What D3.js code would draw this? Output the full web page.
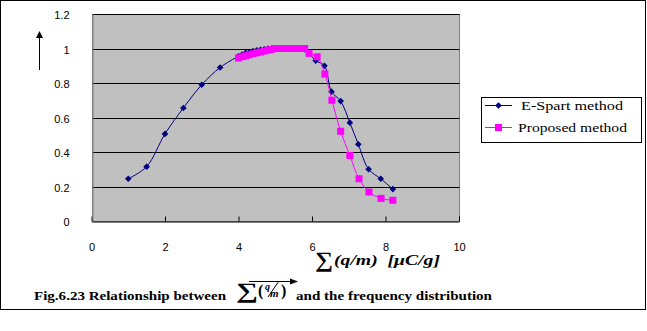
<!DOCTYPE html>
<html><head><meta charset="utf-8">
<script src="https://cdn.jsdelivr.net/npm/d3@7"></script>
<style>body{margin:0;background:#fff}svg{display:block}</style>
</head><body>
<svg id="c" width="647" height="331"></svg>
<script>
// ---- data ----
const espartX = [1, 1.5, 2, 2.5, 3, 3.5, 4, 4.1, 4.2, 4.3, 4.4, 4.5, 4.6, 4.7, 4.8, 4.9, 5.0, 5.2, 5.4, 5.6, 5.8, 6.1, 6.34, 6.53, 6.78, 7.03, 7.26, 7.54, 7.87, 8.2];
const espartY = [0.245, 0.315, 0.505, 0.655, 0.79, 0.89, 0.955, 0.965, 0.975, 0.98, 0.985, 0.99, 0.993, 0.996, 0.998, 1.0, 1.0, 1.0, 1.0, 1.0, 0.995, 0.93, 0.9, 0.75, 0.695, 0.57, 0.445, 0.3, 0.245, 0.185];
const proposedX = [4.0, 4.1, 4.2, 4.3, 4.4, 4.5, 4.6, 4.7, 4.8, 4.9, 5.0, 5.1, 5.2, 5.3, 5.4, 5.5, 5.6, 5.7, 5.8, 5.92, 6.14, 6.35, 6.54, 6.78, 7.03, 7.28, 7.55, 7.88, 8.2];
const proposedY = [0.945, 0.952, 0.958, 0.964, 0.97, 0.975, 0.98, 0.985, 0.99, 0.995, 1.0, 1.0, 1.0, 1.0, 1.0, 1.0, 1.0, 1.0, 1.0, 0.972, 0.952, 0.852, 0.70, 0.52, 0.38, 0.245, 0.168, 0.131, 0.12];
const xTicks = [0, 2, 4, 6, 8, 10];
const yTicks = [0, 0.2, 0.4, 0.6, 0.8, 1, 1.2];
const yTickLabels = ["0", "0.2", "0.4", "0.6", "0.8", "1", "1.2"];
const seriesNames = ["E-Spart method", "Proposed method"];
const captionLeft = "Fig.6.23 Relationship between";
const captionRight = "and the frequency distribution";

// ---- drawing ----
const svg = d3.select("#c");
svg.append("rect").attr("width", 647).attr("height", 331).attr("fill", "#fff");
svg.append("rect").attr("x", 0.5).attr("y", 0.5).attr("width", 645).attr("height", 309)
  .attr("fill", "none").attr("stroke", "#000");

const x = d3.scaleLinear().domain([0, 10]).range([91.5, 459]);
const y = d3.scaleLinear().domain([0, 1.2]).range([221, 14]);
const cr = v => Math.round(v) + 0.5;

svg.append("rect").attr("x", cr(x(0))).attr("y", cr(y(1.2)))
  .attr("width", cr(x(10)) - cr(x(0))).attr("height", cr(y(0)) - cr(y(1.2)))
  .attr("fill", "#C0C0C0").attr("stroke", "#808080");

// gridlines
svg.append("g").selectAll("line").data(yTicks.filter(d => d > 0)).join("line")
  .attr("x1", cr(x(0))).attr("x2", cr(x(10)))
  .attr("y1", d => cr(y(d))).attr("y2", d => cr(y(d)))
  .attr("stroke", "#000");

// x axis
const xAxis = d3.axisBottom(x).tickValues(xTicks).tickSizeInner(-5).tickSizeOuter(0).tickPadding(22);
const gx = svg.append("g").attr("transform", `translate(0,${cr(y(0))})`).call(xAxis);
gx.select(".domain").attr("stroke", "#000");
gx.selectAll(".tick line").attr("stroke", "#000");
gx.selectAll(".tick text").attr("font-family", "Liberation Sans, Arial, sans-serif").attr("font-size", 11).attr("fill", "#000");

// y axis
const yAxis = d3.axisLeft(y).tickValues(yTicks).tickFormat((d, i) => yTickLabels[i]).tickSize(0).tickPadding(23);
const gy = svg.append("g").attr("transform", `translate(${cr(x(0))},0)`).call(yAxis);
gy.select(".domain").attr("stroke", "#808080");
gy.selectAll(".tick text").attr("font-family", "Liberation Sans, Arial, sans-serif").attr("font-size", 11).attr("fill", "#000").attr("dy", "0.45em");

// lines
const line = d3.line().x(d => x(d[0])).y(d => y(d[1])).curve(d3.curveCatmullRom.alpha(0.5));
const eData = espartX.map((v, i) => [v, espartY[i]]);
const pData = proposedX.map((v, i) => [v, proposedY[i]]);
const NAVY = "#000080", MAG = "#FF00FF";
const diamond = d3.symbol(d3.symbolDiamond2, 28);

svg.append("path").datum(eData).attr("d", line).attr("fill", "none").attr("stroke", NAVY).attr("stroke-width", 1);
svg.append("g").selectAll("path").data(eData).join("path")
  .attr("d", diamond)
  .attr("transform", d => `translate(${x(d[0])},${y(d[1])})`).attr("fill", NAVY);

svg.append("path").datum(pData).attr("d", line).attr("fill", "none").attr("stroke", MAG).attr("stroke-width", 1);
svg.append("g").selectAll("rect").data(pData).join("rect")
  .attr("x", d => x(d[0]) - 3.5).attr("y", d => y(d[1]) - 3.5).attr("width", 7).attr("height", 7)
  .attr("fill", MAG);

// legend
const lg = svg.append("g");
lg.append("rect").attr("x", 481.5).attr("y", 97.5).attr("width", 160).attr("height", 45)
  .attr("fill", "#fff").attr("stroke", "#000");
const legY = [105.5, 127.5];
[NAVY, MAG].forEach((c, i) => {
  lg.append("line").attr("x1", 485).attr("x2", 512).attr("y1", legY[i]).attr("y2", legY[i]).attr("stroke", c);
  if (i === 0) lg.append("path").attr("d", diamond).attr("transform", `translate(498.5,${legY[i]})`).attr("fill", c);
  else lg.append("rect").attr("x", 495).attr("y", legY[i] - 3.5).attr("width", 7).attr("height", 7).attr("fill", c);
  lg.append("text").attr("x", i === 0 ? 521 : 518).attr("y", legY[i] + 4.5)
    .attr("font-family", "Liberation Serif, Times New Roman, serif").attr("font-size", 13)
    .attr("textLength", i === 0 ? 102 : 109).attr("lengthAdjust", "spacingAndGlyphs")
    .text(seriesNames[i]);
});

// up arrow (top-left)
svg.append("line").attr("x1", 39.5).attr("x2", 39.5).attr("y1", 37).attr("y2", 70).attr("stroke", "#000");
svg.append("path").attr("d", "M36,38 L43,38 L39.5,31 Z").attr("fill", "#000");

// x-axis title
const xt = svg.append("g").attr("font-family", "Liberation Serif, Times New Roman, serif").attr("font-weight", "bold").attr("fill", "#000");
xt.append("text").attr("x", 315).attr("y", 267).attr("font-size", 22)
  .attr("textLength", 18).attr("lengthAdjust", "spacingAndGlyphs").text("∑");
xt.append("text").attr("x", 334).attr("y", 265).attr("font-size", 15).attr("font-style", "italic")
  .attr("xml:space", "preserve").attr("textLength", 106).attr("lengthAdjust", "spacingAndGlyphs")
  .text("(q/m)  [μC/g]");

// caption
const cap = svg.append("g").attr("font-family", "Liberation Serif, Times New Roman, serif").attr("font-weight", "bold").attr("fill", "#000");
cap.append("text").attr("x", 34).attr("y", 300).attr("font-size", 12.5)
  .attr("textLength", 192).attr("lengthAdjust", "spacingAndGlyphs").text(captionLeft);
cap.append("text").attr("x", 296).attr("y", 300).attr("font-size", 12.5)
  .attr("textLength", 196).attr("lengthAdjust", "spacingAndGlyphs").text(captionRight);
cap.append("text").attr("x", 236).attr("y", 298).attr("font-size", 22)
  .attr("textLength", 22).attr("lengthAdjust", "spacingAndGlyphs").text("∑");
cap.append("text").attr("x", 258).attr("y", 296).attr("font-size", 16).text("(");
cap.append("text").attr("x", 265).attr("y", 290).attr("font-size", 10).attr("font-style", "italic").text("q");
cap.append("line").attr("x1", 279).attr("y1", 281).attr("x2", 268).attr("y2", 297).attr("stroke", "#000").attr("stroke-width", 1);
cap.append("text").attr("x", 270).attr("y", 297).attr("font-size", 11).attr("font-style", "italic").text("m");
cap.append("text").attr("x", 281).attr("y", 296).attr("font-size", 16).text(")");
// arrow over caption symbol
svg.append("line").attr("x1", 249).attr("x2", 292).attr("y1", 281.5).attr("y2", 281.5).attr("stroke", "#000");
svg.append("path").attr("d", "M290,278.5 L298,281.5 L290,284.5 Z").attr("fill", "#000");
</script>
</body></html>
